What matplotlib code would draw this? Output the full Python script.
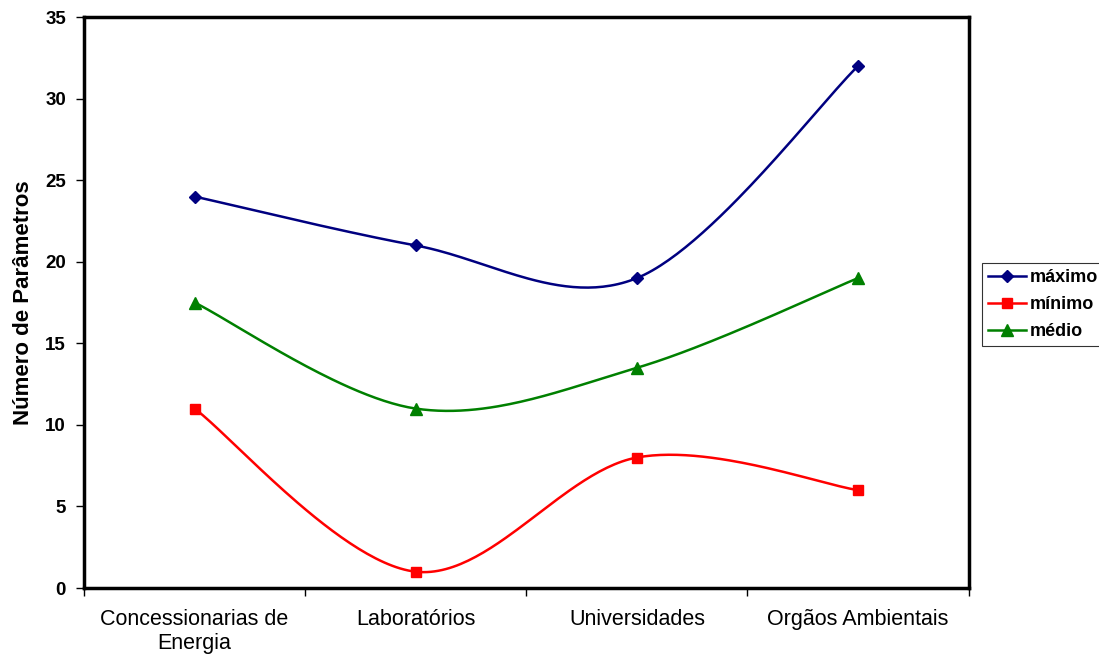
import numpy as np
import matplotlib
matplotlib.use('Agg')
import matplotlib.pyplot as plt

plt.rcParams['font.family'] = ['Liberation Sans', 'DejaVu Sans']

categorias = ['Concessionarias de\nEnergia', 'Laboratórios', 'Universidades', 'Orgãos Ambientais']
maximo = [24, 21, 19, 32]
minimo = [11, 1, 8, 6]
medio = [17.5, 11, 13.5, 19]
y_ticks = [0, 5, 10, 15, 20, 25, 30, 35]


def smooth(xs, ys, n=60):
    # Excel-style smoothed line: Catmull-Rom as cubic Bezier segments
    xs = np.asarray(xs, float)
    ys = np.asarray(ys, float)
    px = np.concatenate([[xs[0]], xs, [xs[-1]]])
    py = np.concatenate([[ys[0]], ys, [ys[-1]]])
    t = np.linspace(0, 1, n)[:, None]
    out_x, out_y = [], []
    for i in range(1, len(px) - 2):
        p0 = np.array([px[i], py[i]])
        p3 = np.array([px[i + 1], py[i + 1]])
        c1 = p0 + (np.array([px[i + 1], py[i + 1]]) - np.array([px[i - 1], py[i - 1]])) / 6
        c2 = p3 - (np.array([px[i + 2], py[i + 2]]) - np.array([px[i], py[i]])) / 6
        b = ((1 - t) ** 3) * p0 + 3 * ((1 - t) ** 2) * t * c1 + 3 * (1 - t) * t ** 2 * c2 + t ** 3 * p3
        out_x.append(b[:, 0])
        out_y.append(b[:, 1])
    return np.concatenate(out_x), np.concatenate(out_y)


fig = plt.figure(figsize=(10.99, 6.57), dpi=100)
ax = fig.add_axes([0.0764, 0.105, 0.805, 0.869])

x = np.arange(len(categorias)) + 0.5
series = [
    ('máximo', maximo, '#000080', 'D', 6.5),
    ('mínimo', minimo, '#FF0000', 's', 7.5),
    ('médio', medio, '#008000', '^', 8.5),
]
for nome, vals, cor, mk, ms in series:
    sx, sy = smooth(x, vals)
    ax.plot(sx, sy, color=cor, lw=1.8, zorder=2)
    ax.plot(x, vals, linestyle='none', marker=mk, color=cor, markersize=ms, zorder=3)
    ax.plot([], [], color=cor, lw=1.8, marker=mk, markersize=ms, label=nome)

ax.set_xlim(0, 4)
ax.set_ylim(0, 35)
ax.set_yticks(y_ticks)
ax.set_yticklabels([str(v) for v in y_ticks], fontweight='bold', fontsize=13.5)
ax.set_xticks(np.arange(5))
ax.set_xticklabels([])
ax.set_xticks(x, minor=True)
ax.set_xticklabels(categorias, minor=True, fontsize=15.5)
ax.tick_params(axis='x', which='minor', length=0, pad=15)
ax.tick_params(axis='x', which='major', length=6, width=1, direction='out')
ax.tick_params(axis='y', length=6, width=1, direction='out', pad=7)
ax.set_ylabel('Número de Parâmetros', fontweight='bold', fontsize=16, labelpad=8)

for s in ax.spines.values():
    s.set_linewidth(2.5)
    s.set_color('black')

leg = ax.legend(loc='upper left', bbox_to_anchor=(982 / 1099, 1 - 263 / 657),
                bbox_transform=fig.transFigure, frameon=True, fancybox=False,
                edgecolor='black', prop={'weight': 'bold', 'size': 13},
                handlelength=2.1, handletextpad=0.2, borderpad=0.35, labelspacing=0.55,
                borderaxespad=0.0)
leg.get_frame().set_linewidth(0.8)

fig.savefig('out.png', dpi=100)
